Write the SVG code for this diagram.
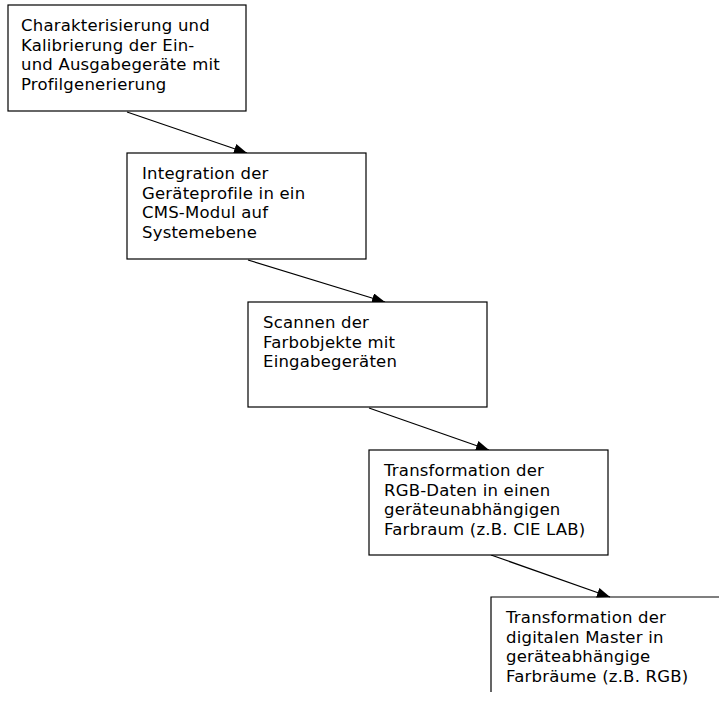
<svg xmlns="http://www.w3.org/2000/svg" width="719" height="702" viewBox="0 0 719 702">
<style>
.box{fill:#fff;stroke:#000;stroke-width:1.2}
.t{font-family:"DejaVu Sans",Verdana,sans-serif;font-size:16.5px;letter-spacing:0.2px;fill:#000}
.c{stroke:#000;stroke-width:1.2;fill:none}
</style>
<defs>
<marker id="ah" viewBox="0 0 13 10" refX="13" refY="5" markerWidth="13" markerHeight="10" markerUnits="userSpaceOnUse" orient="auto">
<path d="M0,0 L13,5 L0,10 Z" fill="#000"/>
</marker>
</defs>
<rect width="719" height="702" fill="#fff"/>
<g id="connectors">
<line class="c" x1="127" y1="112" x2="247" y2="153" marker-end="url(#ah)"/>
<line class="c" x1="248" y1="260" x2="385" y2="302" marker-end="url(#ah)"/>
<line class="c" x1="369" y1="408" x2="489" y2="450" marker-end="url(#ah)"/>
<line class="c" x1="491" y1="555" x2="610" y2="597" marker-end="url(#ah)"/>
</g>
<g id="node1">
<rect class="box" x="8" y="5" width="238" height="106"/>
<text class="t" x="21" y="31"><tspan x="21">Charakterisierung und</tspan><tspan x="21" dy="19.5">Kalibrierung der Ein-</tspan><tspan x="21" dy="19.5">und Ausgabegeräte mit</tspan><tspan x="21" dy="19.5">Profilgenerierung</tspan></text>
</g>
<g id="node2">
<rect class="box" x="127" y="153" width="239" height="106"/>
<text class="t" x="142" y="179"><tspan x="142">Integration der</tspan><tspan x="142" dy="19.5">Geräteprofile in ein</tspan><tspan x="142" dy="19.5">CMS-Modul auf</tspan><tspan x="142" dy="19.5">Systemebene</tspan></text>
</g>
<g id="node3">
<rect class="box" x="248" y="302" width="239" height="105"/>
<text class="t" x="263" y="328"><tspan x="263">Scannen der</tspan><tspan x="263" dy="19.5">Farbobjekte mit</tspan><tspan x="263" dy="19.5">Eingabegeräten</tspan></text>
</g>
<g id="node4">
<rect class="box" x="369" y="450" width="239" height="105"/>
<text class="t" x="384" y="476"><tspan x="384">Transformation der</tspan><tspan x="384" dy="19.5">RGB-Daten in einen</tspan><tspan x="384" dy="19.5">geräteunabhängigen</tspan><tspan x="384" dy="19.5">Farbraum (z.B. CIE LAB)</tspan></text>
</g>
<g id="node5">
<path class="c" d="M730,597 H491 V692"/>
<text class="t" x="506" y="623"><tspan x="506">Transformation der</tspan><tspan x="506" dy="19.5">digitalen Master in</tspan><tspan x="506" dy="19.5">geräteabhängige</tspan><tspan x="506" dy="19.5">Farbräume (z.B. RGB)</tspan></text>
</g>
</svg>
